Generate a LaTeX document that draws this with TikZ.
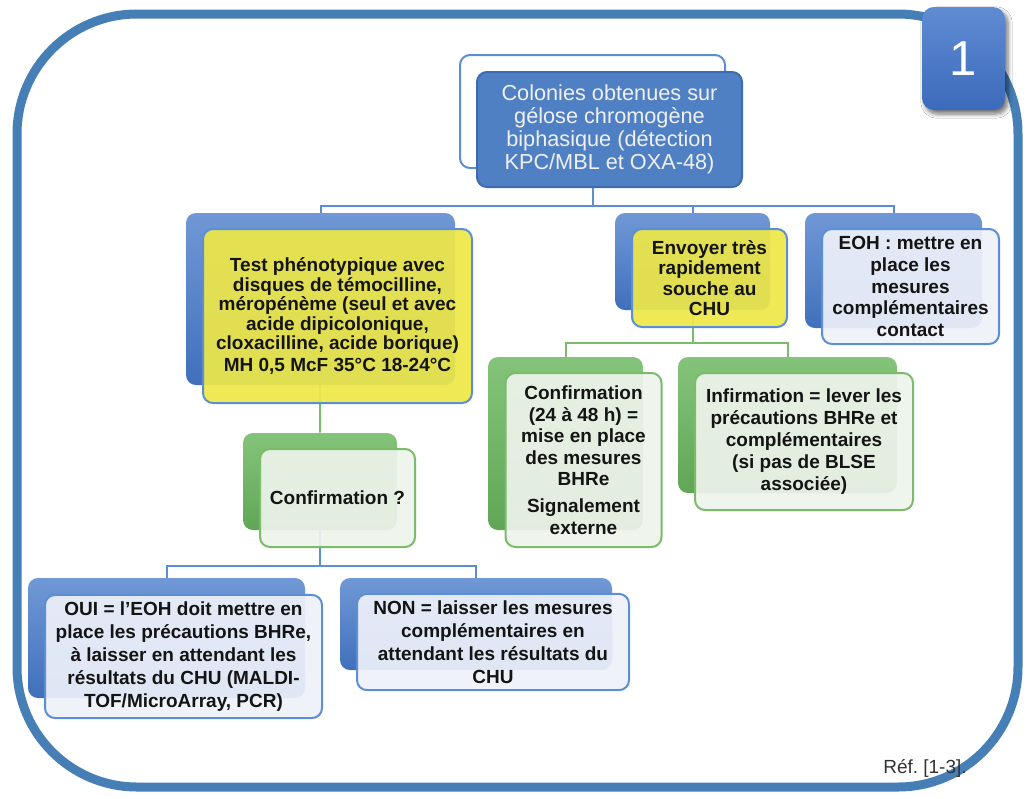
\documentclass[tikz,border=0pt]{standalone}
\usepackage{fontspec}
\setmainfont{Liberation Sans}
\frenchspacing
\usepackage{tikz}
\usetikzlibrary{positioning, backgrounds, shadows.blur}

\definecolor{cFrame}{RGB}{70,126,182}
\definecolor{cBlueTop}{RGB}{112,152,214}
\definecolor{cBlueBot}{RGB}{64,112,188}
\definecolor{cRootFill}{RGB}{80,128,196}
\definecolor{cRootLine}{RGB}{62,106,176}
\definecolor{cLinkBlue}{RGB}{92,142,212}
\definecolor{cYellow}{RGB}{238,232,72}
\definecolor{cLavender}{RGB}{238,241,249}
\definecolor{cGreenTop}{RGB}{132,196,122}
\definecolor{cGreenBot}{RGB}{96,166,86}
\definecolor{cLinkGreen}{RGB}{124,186,108}
\definecolor{cGreenPale}{RGB}{238,244,236}
\definecolor{cNumTop}{RGB}{96,140,212}
\definecolor{cNumBot}{RGB}{60,106,186}

\tikzset{
frame/.style={draw=cFrame, line width=4.5pt, rounded corners=60pt}, % big outer border
boldtext/.style={font=\bfseries\fontsize{9.5pt}{10.8pt}\selectfont, text=black!92},
backblue/.style={rectangle, rounded corners=5pt, top color=cBlueTop, bottom color=cBlueBot},
backgreen/.style={rectangle, rounded corners=5pt, top color=cGreenTop, bottom color=cGreenBot},
frontyellow/.style={boldtext, rectangle, rounded corners=5pt, draw=cLinkBlue, line width=1pt, fill=cYellow, fill opacity=0.92, text opacity=1, align=center},
frontpale/.style={boldtext, rectangle, rounded corners=5pt, draw=cLinkBlue, line width=1pt, fill=cLavender, fill opacity=0.92, text opacity=1, align=center},
frontgreen/.style={boldtext, rectangle, rounded corners=5pt, draw=cLinkGreen, line width=1pt, fill=cGreenPale, fill opacity=0.92, text opacity=1, align=center},
bluelink/.style={draw=cLinkBlue, line width=1pt},
greenlink/.style={draw=cLinkGreen, line width=1pt},
}

\begin{document}
\begin{tikzpicture}[x=0.5pt, y=-0.5pt]
  \useasboundingbox (0,0) rectangle (1030,799);
  \draw[frame] (17,14) rectangle (1018,787);

  % root
  \node[rectangle, rounded corners=5pt, draw=cLinkBlue, line width=1pt, fill=white, minimum width=132.5pt, minimum height=56.5pt] (colb) at (592.5,111.5) {};
  \node[rectangle, rounded corners=5pt, draw=cRootLine, line width=1pt, fill=cRootFill, minimum width=132.5pt, minimum height=57.5pt,
        align=center, text=white!94!black, font=\fontsize{10.85pt}{11.5pt}\selectfont] (colf) at ([shift={(17,18)}]colb.center)
        {Colonies obtenues sur\\gélose chromogène\\biphasique (détection\\KPC/MBL et OXA-48)};

  % level 1
  \node[backblue, minimum width=134.5pt, minimum height=86pt] (testb) at (320.5,299) {};
  \node[frontyellow, minimum width=134.5pt, minimum height=87pt, font=\bfseries\fontsize{9.5pt}{9.75pt}\selectfont] (testf) at ([shift={(17,17)}]testb.center)
        {Test phénotypique avec\\disques de témocilline,\\méropénème (seul et avec\\acide dipicolonique,\\cloxacilline, acide borique)\\[1pt]MH 0,5 McF 35°C 18-24°C};

  \node[backblue, minimum width=77.5pt, minimum height=48.5pt] (envb) at (692.5,261.5) {};
  \node[frontyellow, minimum width=77.5pt, minimum height=49pt, font=\bfseries\fontsize{9.5pt}{10.25pt}\selectfont] (envf) at ([shift={(17,16.5)}]envb.center)
        {Envoyer très\\rapidement\\souche au\\CHU};

  \node[backblue, minimum width=88.5pt, minimum height=57.5pt] (eohb) at (893.5,270.5) {};
  \node[frontpale, minimum width=88.5pt, minimum height=57.5pt, font=\bfseries\fontsize{9.5pt}{10.9pt}\selectfont] (eohf) at ([shift={(17,16)}]eohb.center)
        {EOH : mettre en\\place les\\mesures\\complémentaires\\contact};

  % level 2
  \node[backgreen, minimum width=77pt, minimum height=48.5pt] (confqb) at (320,481.5) {};
  \node[frontgreen, minimum width=77.5pt, minimum height=49pt] (confqf) at ([shift={(17.5,16.5)}]confqb.center)
        {Confirmation ?};

  \node[backgreen, minimum width=77.5pt, minimum height=86.5pt] (confb) at (565.5,443.5) {};
  \node[frontgreen, minimum width=78pt, minimum height=87pt, font=\bfseries\fontsize{9.5pt}{10.75pt}\selectfont] (conff) at ([shift={(18,16.5)}]confb.center)
        {Confirmation\\(24 à 48 h) =\\mise en place\\des mesures\\BHRe\\[2.75pt]Signalement\\externe};

  \node[backgreen, minimum width=109.5pt, minimum height=68pt] (infb) at (787.5,425) {};
  \node[frontgreen, minimum width=109pt, minimum height=68.5pt, font=\bfseries\fontsize{9.5pt}{10.9pt}\selectfont] (inff) at ([shift={(16.5,16.5)}]infb.center)
        {Infirmation = lever les\\précautions BHRe et\\complémentaires\\(si pas de BLSE\\associée)};

  % level 3
  \node[backblue, minimum width=138.5pt, minimum height=60pt] (ouib) at (166.5,638) {};
  \node[frontpale, minimum width=138.5pt, minimum height=60.5pt, font=\bfseries\fontsize{9.5pt}{11.5pt}\selectfont] (ouif) at ([shift={(17,18.5)}]ouib.center)
        {OUI = l’EOH doit mettre en\\place les précautions BHRe,\\à laisser en attendant les\\résultats du CHU (MALDI-\\TOF/MicroArray, PCR)};

  \node[backblue, minimum width=136pt, minimum height=46pt] (nonb) at (476,624) {};
  \node[frontpale, minimum width=136pt, minimum height=46pt, font=\bfseries\fontsize{9.5pt}{11.5pt}\selectfont] (nonf) at ([shift={(17,18)}]nonb.center)
        {NON = laisser les mesures\\complémentaires en\\attendant les résultats du\\CHU};

  % badge and reference
  \node[rectangle, rounded corners=6pt, top color=cNumTop, bottom color=cNumBot, minimum width=41.5pt, minimum height=51.5pt,
        text=white, font=\fontsize{24.5pt}{26pt}\selectfont,
        blur shadow={shadow xshift=1.5pt, shadow yshift=-2pt, shadow blur steps=6, shadow opacity=55}] (num) at (963.5,58.5) {1};
  \node[font=\fontsize{9.5pt}{11pt}\selectfont, text=black!80] (ref) at (925,768) {Réf. [1-3].};

  % connectors
  \begin{scope}[on background layer]
    \fill[white] (0,0) rectangle (1030,799);
    \coordinate (bar1) at (0,206);
    \coordinate (bar2) at (0,343);
    \coordinate (bar3) at (0,566);
    \draw[bluelink] (colb.center) -- (colb.center |- bar1) -| (testb.north);
    \draw[bluelink] (colb.center |- bar1) -| (envb.north);
    \draw[bluelink] (colb.center |- bar1) -| (eohb.north);
    \draw[greenlink] (testb.center) -- (confqb.north);
    \draw[greenlink] (envb.center) -- (envb.center |- bar2) -| (confb.north);
    \draw[greenlink] (envb.center |- bar2) -| (infb.north);
    \draw[bluelink] (confqb.center) -- (confqb.center |- bar3) -| (ouib.north);
    \draw[bluelink] (confqb.center |- bar3) -| (nonb.north);
  \end{scope}
\end{tikzpicture}
\end{document}
